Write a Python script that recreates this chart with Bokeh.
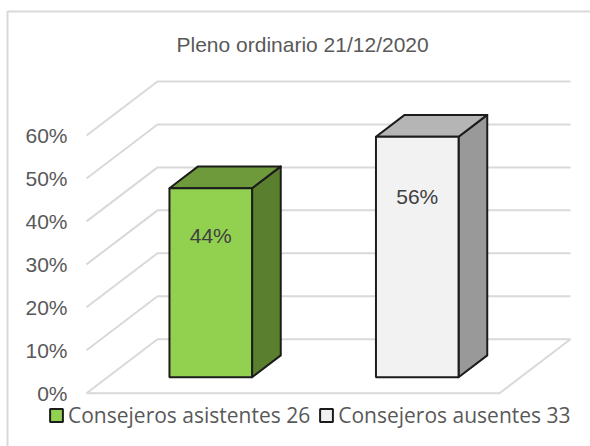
from bokeh.plotting import figure
from bokeh.models import (ColumnDataSource, FixedTicker, Legend, LegendItem, BoxAnnotation,
                          Range1d, Label)
from bokeh.core.properties import value
from bokeh.embed import file_html
from bokeh.resources import INLINE

categories = ["Consejeros asistentes 26", "Consejeros ausentes 33"]
shares = [44, 56]
data_labels = ["44%", "56%"]
ticks = [0, 10, 20, 30, 40, 50, 60]
title_text = "Pleno ordinario 21/12/2020"
front_colors = ["#92d050", "#f2f2f2"]
top_colors = ["#6f9a3c", "#b5b5b5"]
side_colors = ["#5a7f2e", "#999999"]

# oblique projection of the 3-D chart box
PX_X = 206.5
PX_Y = 4.295
DX = 71 / PX_X
DY = 54 / PX_Y
D0 = 0.296
D1 = 0.70
BAR_W = 0.4
GRID = "#d9d9d9"
EDGE = "#1c1c1c"
W, H = 590, 446
X0, Y0 = 86.0, 392.7


def proj(cat, val, d):
    return cat + DX * d, val + DY * d


p = figure(width=W, height=H, output_backend="svg", toolbar_location=None,
           min_border_left=0, min_border_right=0, min_border_top=0, min_border_bottom=0,
           x_range=Range1d((0 - X0) / PX_X, (W - X0) / PX_X),
           y_range=Range1d((Y0 - H) / PX_Y, Y0 / PX_Y),
           x_axis_location=None, background_fill_color="white")
p.outline_line_color = None
p.xgrid.visible = False
p.ygrid.visible = False

ax = p.yaxis[0]
ax.fixed_location = (72 - X0) / PX_X
ax.ticker = FixedTicker(ticks=ticks)
ax.major_label_overrides = {t: f"{t}%" for t in ticks}
ax.axis_line_color = None
ax.major_tick_line_color = None
ax.minor_tick_line_color = None
ax.major_tick_in = 0
ax.major_tick_out = 0
ax.major_label_standoff = 5
ax.major_label_text_font = "Liberation Sans"
ax.major_label_text_font_size = "21px"
ax.major_label_text_color = "#595959"

p.add_layout(Label(x=176, y=H - 44, x_units="screen", y_units="screen", text=title_text,
                   text_font="Liberation Sans", text_font_size="21px",
                   text_color="#595959", text_baseline="middle", text_align="left"))

# chart border: only its top and left edges are in the picture
p.add_layout(BoxAnnotation(left=7, right=W + 20, top=11, bottom=H + 20,
                           left_units="canvas", right_units="canvas",
                           top_units="canvas", bottom_units="canvas",
                           fill_alpha=0, line_color=GRID, line_alpha=1, line_width=2))

# gridlines on side wall, back wall and floor
gx, gy = [], []
for t in ticks:
    a = proj(0, t, 0)
    b = proj(0, t, 1)
    c = proj(2, t, 1)
    gx.append([a[0], b[0], c[0]])
    gy.append([a[1], b[1], c[1]])
a, b = proj(0, 0, 0), proj(2, 0, 0)
c = proj(2, 0, 1)
gx.append([a[0], b[0], c[0]])
gy.append([a[1], b[1], c[1]])
p.multi_line(gx, gy, line_color=GRID, line_width=2)

# bars
item_renderers = []
for i, v in enumerate(shares):
    cat = i + 0.5
    l, r = cat - BAR_W / 2, cat + BAR_W / 2
    # side
    q = [proj(r, 0, D0), proj(r, 0, D1), proj(r, v, D1), proj(r, v, D0)]
    p.patch([k[0] for k in q], [k[1] for k in q], fill_color=side_colors[i],
            line_color=EDGE, line_width=2, line_join="round")
    # top
    q = [proj(l, v, D0), proj(r, v, D0), proj(r, v, D1), proj(l, v, D1)]
    p.patch([k[0] for k in q], [k[1] for k in q], fill_color=top_colors[i],
            line_color=EDGE, line_width=2, line_join="round")
    # front
    base = proj(cat, 0, D0)
    src = ColumnDataSource(dict(x=[base[0]], bottom=[base[1]], top=[base[1] + v]))
    r_bar = p.vbar(x="x", bottom="bottom", top="top", width=BAR_W, source=src,
                   fill_color=front_colors[i], line_color=EDGE, line_width=2)
    item_renderers.append(r_bar)
    # value label
    lab = proj(cat, v * 0.75, D0)
    p.text([lab[0]], [lab[1]], text=[data_labels[i]], text_align="center",
           text_baseline="middle", text_font=value("Liberation Sans"),
           text_font_size="21px", text_color="#404040")

legend = Legend(items=[LegendItem(label=categories[i], renderers=[item_renderers[i]])
                       for i in range(2)],
                orientation="horizontal", location=(48, 17),
                glyph_width=16, glyph_height=16, label_standoff=4, spacing=8,
                padding=0, margin=0, border_line_color=None, background_fill_alpha=0,
                label_text_font="Open Sans", label_text_font_size="21px",
                label_text_color="#595959", label_height=20)
p.add_layout(legend, "center")

open("out.html", "w").write(file_html(p, INLINE))
